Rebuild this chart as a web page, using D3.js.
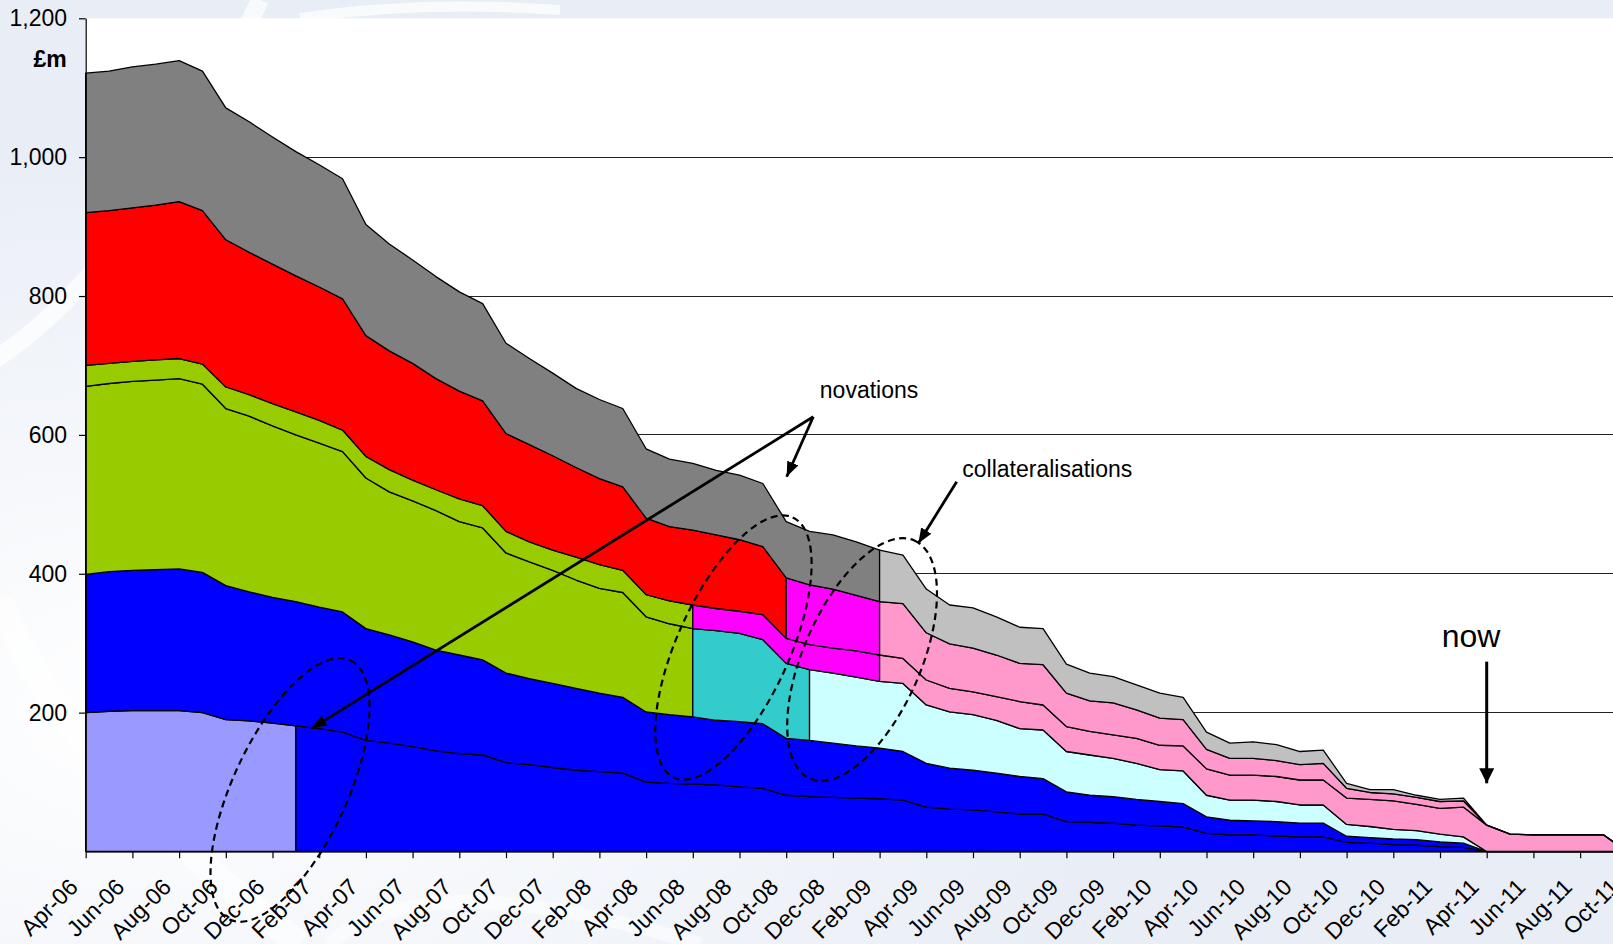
<!DOCTYPE html>
<html>
<head>
<meta charset="utf-8">
<script src="https://cdn.jsdelivr.net/npm/d3@7"></script>
<style>
  html, body { margin: 0; padding: 0; background: #eef2f8; }
  svg { display: block; font-family: "Liberation Sans", Arial, sans-serif; }
</style>
</head>
<body>
<svg id="chart" width="1613" height="944"></svg>
<script>
// ---- data -------------------------------------------------------------
const months = [
  "Apr-06","May-06","Jun-06","Jul-06","Aug-06","Sep-06","Oct-06","Nov-06","Dec-06",
  "Jan-07","Feb-07","Mar-07","Apr-07","May-07","Jun-07","Jul-07","Aug-07","Sep-07","Oct-07","Nov-07","Dec-07",
  "Jan-08","Feb-08","Mar-08","Apr-08","May-08","Jun-08","Jul-08","Aug-08","Sep-08","Oct-08","Nov-08","Dec-08",
  "Jan-09","Feb-09","Mar-09","Apr-09","May-09","Jun-09","Jul-09","Aug-09","Sep-09","Oct-09","Nov-09","Dec-09",
  "Jan-10","Feb-10","Mar-10","Apr-10","May-10","Jun-10","Jul-10","Aug-10","Sep-10","Oct-10","Nov-10","Dec-10",
  "Jan-11","Feb-11","Mar-11","Apr-11","May-11","Jun-11","Jul-11","Aug-11","Sep-11","Oct-11"
];

const tickLabels = [
  "Apr-06","Jun-06","Aug-06","Oct-06","Dec-06","Feb-07","Apr-07","Jun-07","Aug-07","Oct-07",
  "Dec-07","Feb-08","Apr-08","Jun-08","Aug-08","Oct-08","Dec-08","Feb-09","Apr-09","Jun-09",
  "Aug-09","Oct-09","Dec-09","Feb-10","Apr-10","Jun-10","Aug-10","Oct-10","Dec-10","Feb-11",
  "Apr-11","Jun-11","Aug-11","Oct-11"
];

const yTicks = [200, 400, 600, 800, 1000, 1200];
const gridValues = [200, 400, 600, 800, 1000];

// exposure by counterparty band, £m (bottom of the stack first)
const band1 = [200,202,203,203,203,200,190,188,185,181, 177,172,160,156,151,145,141,139,128,125,
               121,117,115,113,100,98,97,96,93,91, 81,79,78,77,76,74,64,61,60,57,
               54,54,43,42,41,38,37,35,26,24, 24,22,21,21,13,12,10,9,7,6, 0,0,0,0,0,0,0];
const band2 = [199,201,202,203,204,202,193,186,181,179, 175,173,161,156,151,145,142,137,129,124,
               121,118,113,109,101,99,97,93,94,93, 82,81,78,75,73,70,63,59,57,56,
               54,51,43,39,38,37,35,34,24,21, 20,21,20,20,9,8,8,8,7,6, 0,0,0,0,0,0,0];
const band3 = [271,271,272,273,274,271,255,253,247,240, 236,231,217,206,203,201,192,190,173,168,
               163,156,151,151,137,131,127,129,127,121, 108,102,101,99,96,98,84,81,80,76,
               69,70,58,58,55,52,46,47,31,29, 30,29,26,26,17,16,14,13,11,9, 0,0,0,0,0,0,0];
const band4 = [30,29,29,29,29,29,31,31,32,33, 33,31,31,32,30,30,33,32,31,29,
               29,33,34,32,32,33,34,32,32,36, 36,36,36,38,38,36,36,34,33,34,
               39,36,36,34,34,36,35,36,38,36, 36,36,36,36,38,39,41,38,37,43, 38,25,24,24,24,24,0];
const band5 = [220,220,221,223,226,221,212,205,201,196, 192,189,174,171,168,160,155,151,141,140,
               136,129,124,120,110,107,108,106,103,98, 87,86,85,80,77,79,68,64,63,60,
               55,58,48,44,46,41,39,38,28,24, 24,23,22,24,14,10,10,10,10,9, 0,0,0,0,0,0,0];
const band6 = [201,201,203,203,203,201,190,188,183,179, 176,173,160,154,149,147,143,140,130,124,
               119,114,114,113,100,97,96,93,93,91, 81,77,78,77,74,70,63,56,58,55,
               52,52,42,40,38,36,36,32,25,22, 24,23,19,19,7,4,6,3,3,4, 0,0,0,0,0,0,0];

// month in which each band changes status (novation / collateralisation)
const band1Phases = ["Apr-06", "Jan-07"];
const band2Phases = ["Apr-06"];
const band3Phases = ["Apr-06", "Jun-08", "Nov-08"];
const band4Phases = ["Apr-06", "Jun-08", "Feb-09"];
const band5Phases = ["Apr-06", "Oct-08", "Feb-09"];
const band6Phases = ["Apr-06", "Feb-09"];

// ---- styling ----------------------------------------------------------
const band1Colours = ["#9999FF", "#0000FF"];
const band2Colours = ["#0000FF"];
const band3Colours = ["#99CC00", "#33CCCC", "#CCFFFF"];
const band4Colours = ["#99CC00", "#FF00FF", "#FF99CC"];
const band5Colours = ["#FF0000", "#FF00FF", "#FF99CC"];
const band6Colours = ["#808080", "#C0C0C0"];

const W = 1613, H = 944;
const plotLeft = 85.7, plotTop = 18.3, plotBottom = 851.5;
const monthStep = 23.35;
const FONT = 23;

const svg = d3.select("#chart");

// page background with soft swirls
const defs = svg.append("defs");
const rg = defs.append("radialGradient").attr("id", "bgGlow")
  .attr("cx", "0.1").attr("cy", "0.75").attr("r", "0.6");
rg.append("stop").attr("offset", "0").attr("stop-color", "#ffffff");
rg.append("stop").attr("offset", "1").attr("stop-color", "#e9eef6");
svg.append("rect").attr("width", W).attr("height", H).attr("fill", "url(#bgGlow)");
const swirl = svg.append("g").attr("fill", "none").attr("stroke", "#ffffff");
swirl.append("path").attr("d", "M -40 380 Q 120 300 260 0").attr("stroke-width", 18).attr("opacity", 0.7);
swirl.append("path").attr("d", "M 0 600 Q 60 760 300 944").attr("stroke-width", 26).attr("opacity", 0.6);
swirl.append("path").attr("d", "M 330 944 Q 420 860 700 944").attr("stroke-width", 14).attr("opacity", 0.5);
swirl.append("path").attr("d", "M 300 18 Q 420 0 560 10").attr("stroke-width", 10).attr("opacity", 0.7);

// white plot area
svg.append("rect")
  .attr("x", plotLeft).attr("y", plotTop)
  .attr("width", W - plotLeft).attr("height", plotBottom - plotTop)
  .attr("fill", "#ffffff");

// ---- scales -----------------------------------------------------------
const x = d3.scalePoint().domain(months)
  .range([plotLeft, plotLeft + monthStep * (months.length - 1)]);
const y = d3.scaleLinear().domain([0, 1200]).range([plotBottom, plotTop]);
// position at a fractional month index (for annotations)
const xAt = i => x(months[0]) + i * x.step();

// gridlines
svg.append("g").selectAll("line").data(gridValues).join("line")
  .attr("x1", plotLeft).attr("x2", W)
  .attr("y1", d => y(d)).attr("y2", d => y(d))
  .attr("stroke", "#222").attr("stroke-width", 1).attr("shape-rendering", "crispEdges");

// ---- stacked areas ----------------------------------------------------
const keys = ["b1", "b2", "b3", "b4", "b5", "b6"];
const bandValues = [band1, band2, band3, band4, band5, band6];
const bandPhases = [band1Phases, band2Phases, band3Phases, band4Phases, band5Phases, band6Phases];
const bandColours = [band1Colours, band2Colours, band3Colours, band4Colours, band5Colours, band6Colours];

const rows = months.map((m, i) => {
  const r = { month: m };
  keys.forEach((k, j) => { r[k] = bandValues[j][i]; });
  return r;
});
const stacked = d3.stack().keys(keys)(rows);

const area = d3.area()
  .x(d => x(d.data.month))
  .y0(d => y(d[0]))
  .y1(d => y(d[1]));

const areas = svg.append("g");
stacked.forEach((layer, k) => {
  const phases = bandPhases[k];
  phases.forEach((start, j) => {
    const i0 = months.indexOf(start);
    const i1 = j + 1 < phases.length ? months.indexOf(phases[j + 1]) : months.length - 1;
    areas.append("path")
      .datum(layer.slice(i0, i1 + 1))
      .attr("d", area)
      .attr("fill", bandColours[k][j])
      .attr("stroke", "#000")
      .attr("stroke-width", 1.3)
      .attr("stroke-linejoin", "round");
  });
});

// ---- axes -------------------------------------------------------------
const yAxis = svg.append("g")
  .attr("transform", `translate(${plotLeft},0)`)
  .call(d3.axisLeft(y).tickValues(yTicks).tickSize(6.7).tickSizeOuter(0)
    .tickPadding(12).tickFormat(d3.format(",")));
yAxis.select(".domain").attr("stroke", "#000").attr("stroke-width", 1.2);
yAxis.selectAll(".tick line").attr("stroke", "#000").attr("stroke-width", 1.2);
yAxis.selectAll(".tick text").attr("font-size", FONT).attr("fill", "#000")
  .attr("font-family", "Liberation Sans, Arial, sans-serif");

svg.append("text")
  .attr("x", 66.7).attr("y", 66.7)
  .attr("text-anchor", "end")
  .attr("font-size", FONT).attr("font-weight", "bold")
  .text("£m");

const xAxis = svg.append("g")
  .attr("transform", `translate(0,${plotBottom})`)
  .call(d3.axisBottom(x).tickValues(tickLabels).tickSize(6.7).tickSizeOuter(0));
xAxis.select(".domain").attr("stroke", "#000").attr("stroke-width", 1.2);
xAxis.selectAll(".tick line").attr("stroke", "#000").attr("stroke-width", 1.2);
xAxis.selectAll(".tick text")
  .attr("x", 0).attr("y", 0).attr("dy", 0)
  .attr("text-anchor", "end")
  .attr("transform", "translate(-7,37) rotate(-45)")
  .attr("font-size", FONT).attr("fill", "#000")
  .attr("font-family", "Liberation Sans, Arial, sans-serif");

// ---- annotations ------------------------------------------------------
const notes = svg.append("g");

// dashed rings around the transitions
const rings = [
  { m: 8.75, v: 88.6, rx: 143, ry: 57, rot: -65 },
  { m: 27.74, v: 293.8, rx: 143, ry: 56, rot: -65.5 },
  { m: 33.25, v: 276.5, rx: 130, ry: 58.6, rot: -66.3 }
];
notes.selectAll("ellipse").data(rings).join("ellipse")
  .attr("transform", d => `translate(${xAt(d.m)},${y(d.v)}) rotate(${d.rot})`)
  .attr("rx", d => d.rx).attr("ry", d => d.ry)
  .attr("fill", "none").attr("stroke", "#000")
  .attr("stroke-width", 2.2).attr("stroke-dasharray", "7,4.5");

function marker(id, len, half) {
  defs.append("marker").attr("id", id)
    .attr("markerUnits", "userSpaceOnUse")
    .attr("viewBox", `0 ${-half} ${len} ${2 * half}`)
    .attr("refX", len).attr("refY", 0)
    .attr("markerWidth", len).attr("markerHeight", 2 * half)
    .attr("orient", "auto")
    .append("path").attr("d", `M0,${-half} L${len},0 L0,${half} Z`).attr("fill", "#000");
}
marker("headSmall", 15, 6);
marker("headNow", 15, 7.5);

function arrow(m0, v0, m1, v1, width, head) {
  notes.append("line")
    .attr("x1", xAt(m0)).attr("y1", y(v0))
    .attr("x2", xAt(m1)).attr("y2", y(v1))
    .attr("stroke", "#000").attr("stroke-width", width)
    .attr("marker-end", `url(#${head})`);
}
// novations
arrow(31.16, 626.2, 9.68, 177.4, 2.8, "headSmall");
arrow(31.16, 626.2, 30.02, 539.8, 2.8, "headSmall");
// collateralisations
arrow(37.3, 532.6, 35.66, 443.9, 2.8, "headSmall");
// now
arrow(60.0, 273.4, 60.0, 98.2, 3, "headNow");

notes.append("text").attr("x", xAt(31.44)).attr("y", y(652.7))
  .attr("font-size", FONT).text("novations");
notes.append("text").attr("x", xAt(37.54)).attr("y", y(539))
  .attr("font-size", FONT).text("collateralisations");
notes.append("text").attr("x", xAt(58.07)).attr("y", y(294.1))
  .attr("font-size", 32).text("now");
</script>
</body>
</html>
